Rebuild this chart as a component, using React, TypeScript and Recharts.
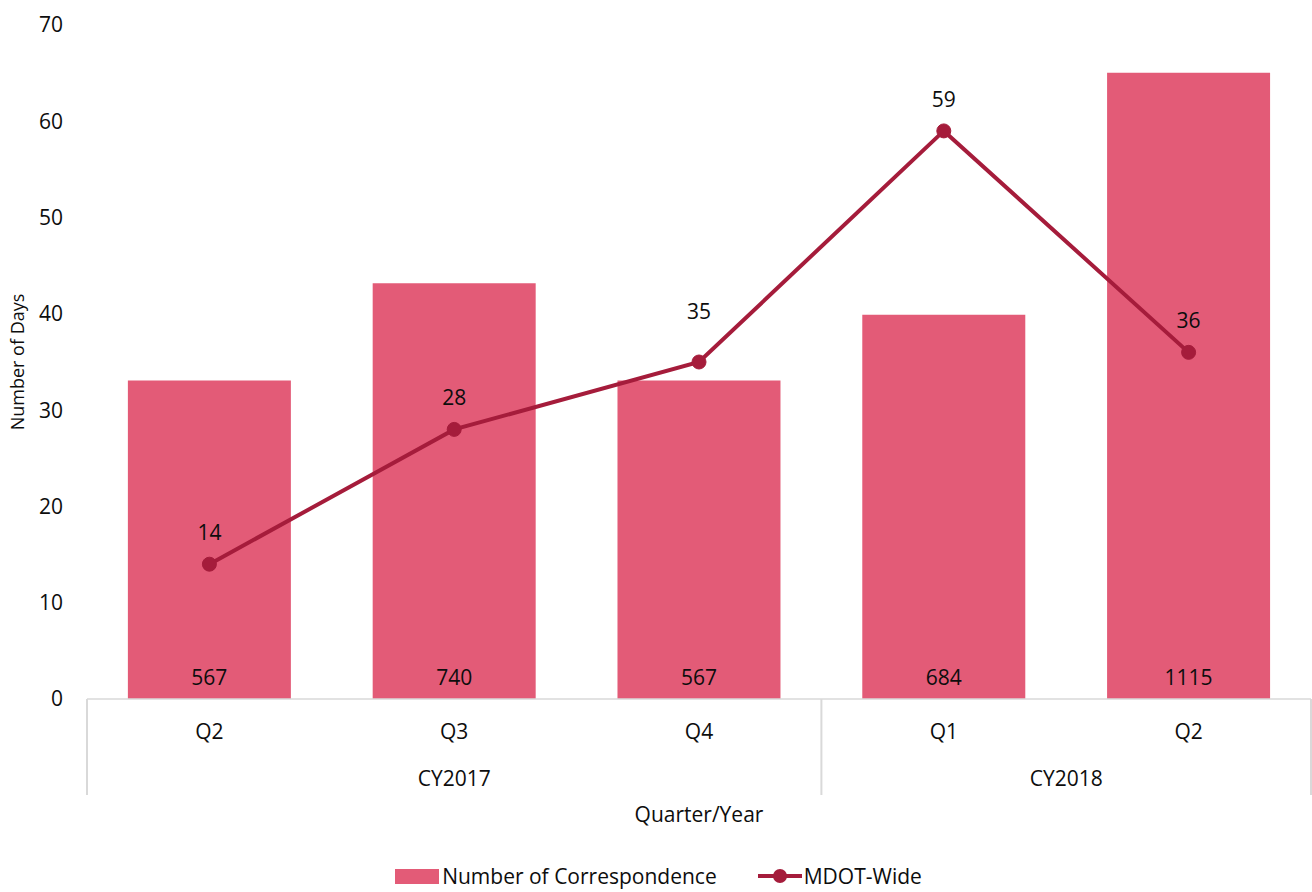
import React from 'react';
import { ComposedChart, Bar, Line, XAxis, YAxis, Legend, LabelList } from 'recharts';

const quarters = ['Q2', 'Q3', 'Q4', 'Q1', 'Q2'];
const years = ['CY2017', 'CY2017', 'CY2017', 'CY2018', 'CY2018'];
const correspondence = [567, 740, 567, 684, 1115];
const mdotWide = [14, 28, 35, 59, 36];
const dayTicks = [0, 10, 20, 30, 40, 50, 60, 70];

const data = quarters.map((q, i) => ({
  key: `${years[i]}-${q}`,
  quarter: q,
  year: years[i],
  correspondence: correspondence[i],
  mdot: mdotWide[i],
}));

const FONT = '"Open Sans", Lato, sans-serif';
const FS = 21;
const BAR = '#E35B77';
const LINE = '#A51C3B';
const AXIS = '#D9D9D9';
const TEXT = '#0d0d0d';

const GroupTick = (props: any) => {
  const { x, y, payload, index, width } = props;
  const n = data.length;
  const cw = payload && payload.offset ? payload.offset * 2 : width / n;
  const left = x - cw / 2;
  const year = years[index];
  const isStart = index === 0 || years[index - 1] !== year;
  let count = 0;
  if (isStart) {
    for (let j = index; j < n && years[j] === year; j++) count++;
  }
  return (
    <g>
      <text x={x} y={y + 32} textAnchor="middle" dominantBaseline="central" fontFamily={FONT} fontSize={FS} fill={TEXT}>
        {quarters[index]}
      </text>
      {isStart && <line x1={left} x2={left} y1={y} y2={y + 96} stroke={AXIS} strokeWidth={2} />}
      {index === n - 1 && (
        <line x1={left + cw} x2={left + cw} y1={y} y2={y + 96} stroke={AXIS} strokeWidth={2} />
      )}
      {isStart && (
        <text x={left + (count * cw) / 2} y={y + 79} textAnchor="middle" dominantBaseline="central" fontFamily={FONT} fontSize={FS} fill={TEXT}>
          {year}
        </text>
      )}
    </g>
  );
};

const LineLabel = (props: any) => {
  const { x, y, value, index } = props;
  const next = index < mdotWide.length - 1 ? mdotWide[index + 1] : -Infinity;
  const lift = next - value > 20 ? 51 : 32;
  return (
    <text x={x} y={y - lift} textAnchor="middle" dominantBaseline="central" fontFamily={FONT} fontSize={FS} fill={TEXT}>
      {value}
    </text>
  );
};

const renderLegend = () => (
  <div
    style={{
      display: 'flex',
      justifyContent: 'center',
      alignItems: 'center',
      gap: 41,
      fontFamily: FONT,
      fontSize: FS,
      color: TEXT,
      paddingLeft: 6,
    }}
  >
    <div style={{ display: 'flex', alignItems: 'center' }}>
      <span style={{ display: 'inline-block', width: 44, height: 15, background: BAR, marginRight: 3 }} />
      <span>Number of Correspondence</span>
    </div>
    <div style={{ display: 'flex', alignItems: 'center' }}>
      <svg width={44} height={18} style={{ marginRight: 2 }}>
        <line x1={0} x2={44} y1={9} y2={9} stroke={LINE} strokeWidth={4} />
        <circle cx={22} cy={9} r={7} fill={LINE} />
      </svg>
      <span>MDOT-Wide</span>
    </div>
  </div>
);

export default function App() {
  return (
    <div style={{ position: 'absolute', left: 0, top: 0, width: 1312, height: 892, background: '#fff' }}>
      <ComposedChart
        width={1312}
        height={892}
        data={data}
        margin={{ top: 25, right: 1, left: 0, bottom: 0 }}
        barCategoryGap="16.7%"
      >
        <XAxis
          dataKey="key"
          axisLine={{ stroke: AXIS, strokeWidth: 1.5 }}
          tickLine={false}
          tickSize={0}
          tickMargin={0}
          height={165}
          interval={0}
          tick={<GroupTick />}
          label={{
            content: (p: any) => {
              const vb = p.viewBox || {};
              return (
                <text
                  x={vb.x + vb.width / 2}
                  y={vb.y + 115}
                  textAnchor="middle"
                  dominantBaseline="central"
                  fontFamily={FONT}
                  fontSize={FS}
                  fill={TEXT}
                >
                  Quarter/Year
                </text>
              );
            },
          }}
        />
        <YAxis
          yAxisId="days"
          domain={[0, 70]}
          ticks={dayTicks}
          axisLine={false}
          tickLine={false}
          tickSize={0}
          tickMargin={24}
          width={87}
          tick={{ fontFamily: FONT, fontSize: FS, fill: TEXT }}
          label={{
            content: (p: any) => {
              const vb = p.viewBox || {};
              const cx = vb.x + 17;
              const cy = vb.y + vb.height / 2;
              return (
                <text
                  x={cx}
                  y={cy}
                  transform={`rotate(-90 ${cx} ${cy})`}
                  textAnchor="middle"
                  dominantBaseline="central"
                  fontFamily={FONT}
                  fontSize={18}
                  fill={TEXT}
                >
                  Number of Days
                </text>
              );
            },
          }}
        />
        <YAxis yAxisId="count" orientation="right" domain={[0, 1200]} hide />
        <Bar yAxisId="count" dataKey="correspondence" name="Number of Correspondence" fill={BAR} isAnimationActive={false}>
          <LabelList
            dataKey="correspondence"
            position="insideBottom"
            offset={14}
            style={{ fontFamily: FONT, fontSize: FS, fill: TEXT }}
          />
        </Bar>
        <Line
          yAxisId="days"
          dataKey="mdot"
          name="MDOT-Wide"
          stroke={LINE}
          strokeWidth={4}
          dot={{ r: 7, fill: LINE, stroke: LINE, strokeWidth: 1 }}
          isAnimationActive={false}
        >
          <LabelList dataKey="mdot" content={<LineLabel />} />
        </Line>
        <Legend verticalAlign="bottom" content={renderLegend} wrapperStyle={{ bottom: 2 }} />
      </ComposedChart>
    </div>
  );
}
